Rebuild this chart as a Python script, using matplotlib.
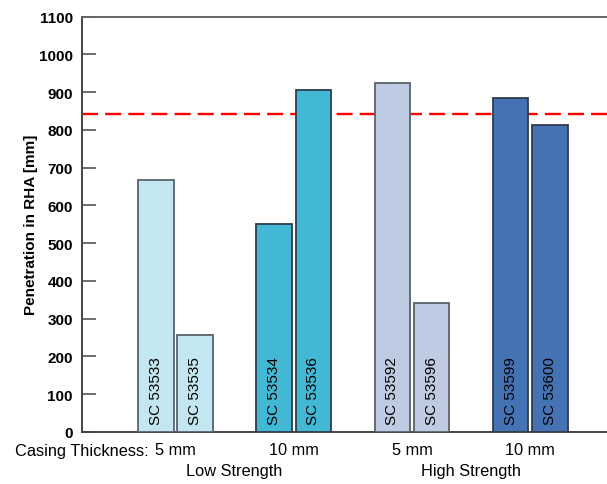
import numpy as np
import matplotlib.pyplot as plt

plt.rcParams['font.family'] = ['Liberation Sans', 'DejaVu Sans']

# data
samples = ['SC 53533', 'SC 53535', 'SC 53534', 'SC 53536',
           'SC 53592', 'SC 53596', 'SC 53599', 'SC 53600']
penetration = [667, 257, 550, 906, 923, 342, 884, 814]
group_of_bar = [0, 0, 1, 1, 2, 2, 3, 3]
thickness_labels = ['5 mm', '10 mm', '5 mm', '10 mm']
strength_labels = ['Low Strength', 'High Strength']
group_colors = ['#c3e7f0', '#42b8d5', '#bfcbe3', '#4472b4']
reference_level = 843

fig = plt.figure(figsize=(6.07, 4.85), dpi=100)
ax = fig.add_axes([82 / 607, 52 / 485, 1 - 82 / 607 + 0.01, 415.5 / 485])

offset = 0.166
xpos = [g + (-offset if i % 2 == 0 else offset) for i, g in enumerate(group_of_bar)]
colors = [group_colors[g] for g in group_of_bar]
edges = ['#59626a' if g % 2 == 0 else '#2f3b4a' for g in group_of_bar]

ax.bar(xpos, penetration, width=0.3, color=colors, edgecolor=edges,
       linewidth=1.3, zorder=3)

# reference line (behind bars)
ax.axhline(reference_level, color='#ff0000', lw=1.7, dashes=(6.8, 3.0), zorder=2)

# sample labels inside bars
for x, s in zip(xpos, samples):
    ax.annotate(s, (x, 0), xytext=(0, 6), textcoords='offset points',
                rotation=90, ha='center', va='bottom',
                fontsize=11, color='black', zorder=4)

ax.set_xlim(-0.79, 3.70)
ax.set_ylim(0, 1100)
ax.set_yticks(np.arange(0, 1101, 100))
ax.tick_params(axis='y', direction='in', length=10, width=1.2, color='#555555',
               labelsize=11, pad=6.5)
for lab in ax.get_yticklabels():
    lab.set_fontweight('bold')
ax.set_xticks(range(4))
ax.set_xticklabels(thickness_labels, fontsize=11.8)
ax.tick_params(axis='x', length=0, pad=7)

ax.spines['right'].set_visible(False)
for sp in ['left', 'bottom', 'top']:
    ax.spines[sp].set_linewidth(1.4)
    ax.spines[sp].set_color('#444444')
ax.spines['top'].set_color('#666666')

ax.set_ylabel('Penetration in RHA [mm]', fontsize=11, fontweight='bold',
              labelpad=1)

# category labels below axis
ax.annotate('Casing Thickness:', (-0.23, 0), xycoords=('data', 'axes fraction'),
            xytext=(0, -13), textcoords='offset points',
            ha='right', va='center', fontsize=11.8)
for k, lab in enumerate(strength_labels):
    ax.annotate(lab, (2 * k + 0.5, 0), xycoords=('data', 'axes fraction'),
                xytext=(0, -28), textcoords='offset points',
                ha='center', va='center', fontsize=11.8)

fig.savefig('out.png', dpi=100)
